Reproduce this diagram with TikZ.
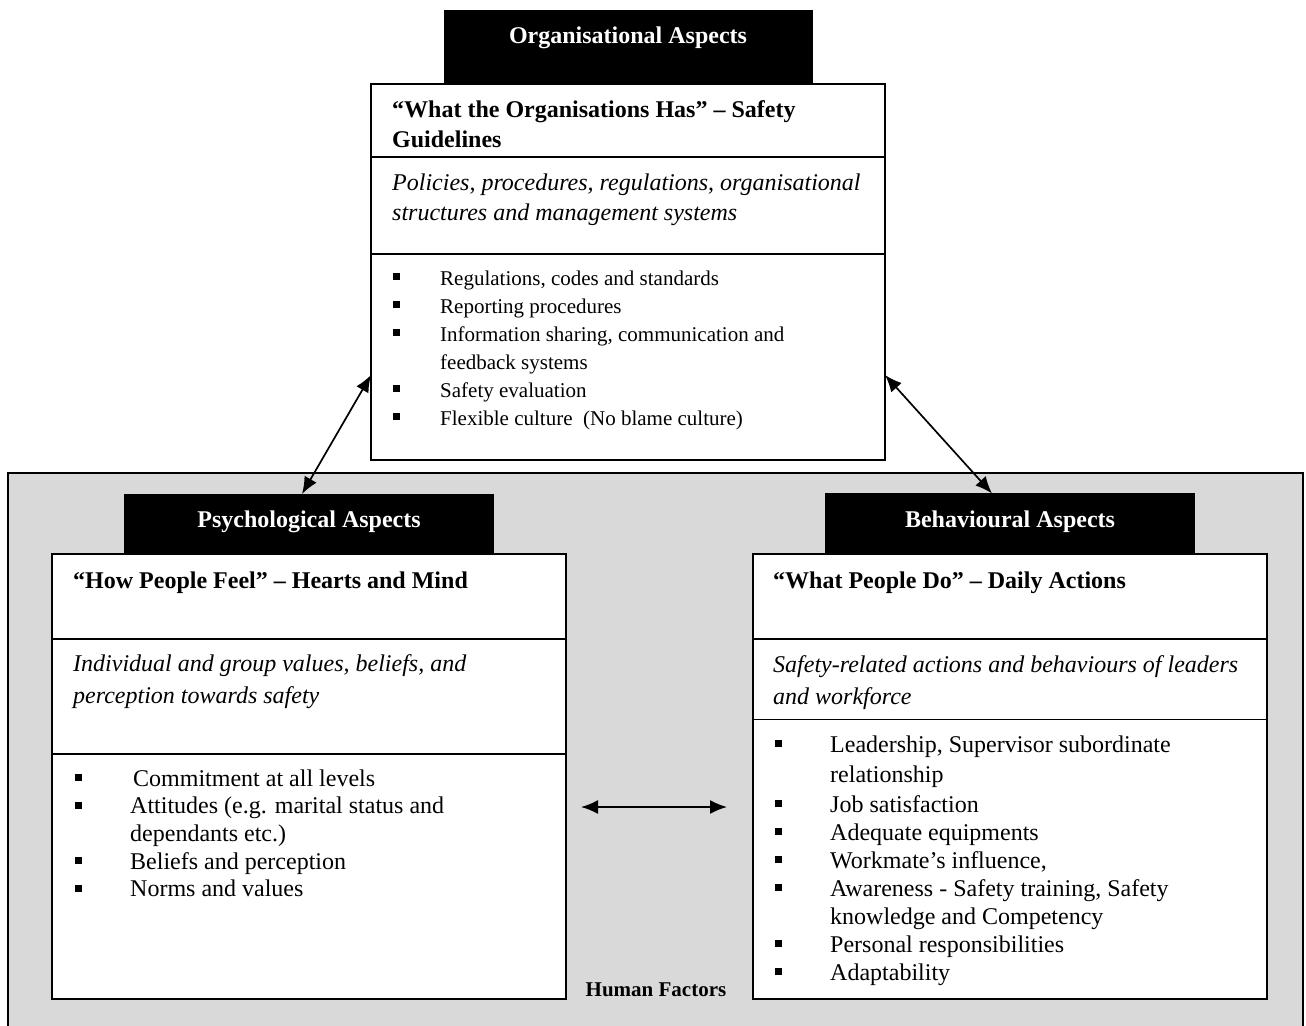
\documentclass[tikz,border=0pt]{standalone}
\usepackage{fontspec}
\setmainfont{Liberation Serif}
\usetikzlibrary{arrows.meta, positioning}

\definecolor{hfgray}{RGB}{217,217,217}
\newcommand{\sqbul}{\rule[5pt]{7pt}{7pt}}

\tikzset{
  frame/.style={draw, line width=1.9pt, fill=hfgray, anchor=north west,
    minimum width=1295pt, minimum height=565pt, inner sep=0pt, outer sep=0pt},
  sect/.style={draw, line width=1.9pt, fill=white, anchor=north west,
    minimum width=514pt, inner sep=0pt, outer sep=0pt},
  head/.style 2 args={draw=black, fill=black, text=white, inner sep=0pt, outer sep=0pt,
    minimum width=369pt, text height=#1, text depth=#2,
    font=\fontsize{24}{28}\selectfont\bfseries},
  titletxt/.style={anchor=base west, inner sep=0pt, font=\fontsize{24}{30}\selectfont\bfseries},
  desctxt/.style={anchor=base west, inner sep=0pt, font=\fontsize{24}{#1}\selectfont\itshape},
  listtxt/.style 2 args={anchor=base west, inner sep=0pt, font=\fontsize{#1}{#2}\selectfont},
  link/.style={<->, line width=1.7pt}
}

\begin{document}
\begin{tikzpicture}[x=1pt, y=-1pt, >={Latex[length=17pt,width=14pt]}]
  \useasboundingbox (0,0) rectangle (1306,1025);

  % human factors frame
  \node[frame] (hf) at (8,473) {};
  \node[font=\fontsize{21}{25}\selectfont\bfseries, anchor=base, inner sep=0pt] (hflabel) at (656,996) {Human Factors};

  % organisational aspects
  \node[sect, minimum height=73pt] (orgtitle) at (371,84) {};
  \node[sect, minimum height=97pt, below=0pt of orgtitle] (orgdesc) {};
  \node[sect, minimum height=206pt, below=0pt of orgdesc] (orglist) {};
  \node[head={32.6pt}{40.7pt}, minimum width=368pt, above=0pt of orgtitle] (orghead) {Organisational Aspects};
  \node[titletxt] (orgtitletxt) at ([xshift=21pt, yshift=-33pt]orgtitle.north west)
    {\begin{tabular}[t]{@{}l@{}}“What the Organisations Has” – Safety\\Guidelines\end{tabular}};
  \node[desctxt=30] (orgdesctxt) at ([xshift=21pt, yshift=-33pt]orgdesc.north west)
    {\begin{tabular}[t]{@{}l@{}}Policies, procedures, regulations, organisational\\structures and management systems\end{tabular}};
  \node[listtxt={21}{28}] (orglisttxt) at ([xshift=22pt, yshift=-31pt]orglist.north west)
    {\begin{tabular}[t]{@{}l@{\hspace{40pt}}l@{}}
      \sqbul & Regulations, codes and standards\\
      \sqbul & Reporting procedures\\
      \sqbul & Information sharing, communication and\\
             & feedback systems\\
      \sqbul & Safety evaluation\\
      \sqbul & Flexible culture\ \ (No blame culture)
    \end{tabular}};

  % psychological aspects
  \node[sect, minimum height=85pt] (psytitle) at (52,554) {};
  \node[sect, minimum height=115pt, below=0pt of psytitle] (psydesc) {};
  \node[sect, minimum height=245pt, below=0pt of psydesc] (psylist) {};
  \node[head={33pt}{27pt}, above=0pt of psytitle] (psyhead) {Psychological Aspects};
  \node[titletxt] (psytitletxt) at ([xshift=21pt, yshift=-34pt]psytitle.north west)
    {“How People Feel” – Hearts and Mind};
  \node[desctxt=32] (psydesctxt) at ([xshift=21pt, yshift=-32pt]psydesc.north west)
    {\begin{tabular}[t]{@{}l@{}}Individual and group values, beliefs, and\\perception towards safety\end{tabular}};
  \node[listtxt={24}{27.7}] (psylisttxt) at ([xshift=23pt, yshift=-32pt]psylist.north west)
    {\begin{tabular}[t]{@{}l@{\hspace{48pt}}l@{}}
      \sqbul & \hspace{3pt}Commitment at all levels\\
      \sqbul & Attitudes (e.g. marital status and\\
             & dependants etc.)\\
      \sqbul & Beliefs and perception\\
      \sqbul & Norms and values
    \end{tabular}};

  % behavioural aspects
  \node[sect, minimum height=85pt] (behtitle) at (753,554) {};
  \node[sect, minimum height=80.5pt, below=0pt of behtitle] (behdesc) {};
  \node[sect, minimum height=279.5pt, below=0pt of behdesc] (behlist) {};
  \node[head={33.5pt}{27pt}, above=0pt of behtitle] (behhead) {Behavioural Aspects};
  \node[titletxt] (behtitletxt) at ([xshift=20pt, yshift=-34pt]behtitle.north west)
    {“What People Do” – Daily Actions};
  \node[desctxt=32] (behdesctxt) at ([xshift=20pt, yshift=-33.6pt]behdesc.north west)
    {\begin{tabular}[t]{@{}l@{}}Safety-related actions and behaviours of leaders\\and workforce\end{tabular}};
  \node[listtxt={24}{28}] (behlisttxt) at ([xshift=22pt, yshift=-32.5pt]behlist.north west)
    {\begin{tabular}[t]{@{}l@{\hspace{48pt}}l@{}}
      \sqbul & Leadership, Supervisor subordinate\\[2pt]
             & relationship\\[2pt]
      \sqbul & Job satisfaction\\
      \sqbul & Adequate equipments\\
      \sqbul & Workmate’s influence,\\
      \sqbul & Awareness - Safety training, Safety\\
             & knowledge and Competency\\
      \sqbul & Personal responsibilities\\
      \sqbul & Adaptability
    \end{tabular}};

  % links
  \coordinate (fl) at (581,807);
  \coordinate (fr) at (727,807);
  \draw[link] ([yshift=-18pt]orglist.west) -- ([xshift=-7pt]psyhead.north);
  \draw[link] ([yshift=-18pt]orglist.east) -- ([xshift=-18pt]behhead.north);
  \draw[link] (fl) -- (fr);
\end{tikzpicture}
\end{document}
